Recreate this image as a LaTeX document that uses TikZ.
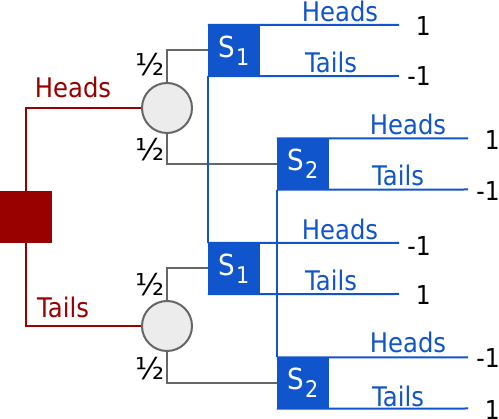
\documentclass[tikz,border=0pt]{standalone}
\usepackage{fontspec}
\setmainfont{DejaVu Sans}
\newfontfamily\labfont{DejaVu Sans}[FakeStretch=0.9]
\definecolor{tred}{RGB}{153,0,0}
\definecolor{tblue}{RGB}{17,85,204}
\definecolor{tgray}{RGB}{102,102,102}
\definecolor{tfill}{RGB}{236,236,236}
\begin{document}
\begin{tikzpicture}[x=1pt,y=-1pt,
  redline/.style={draw=tred,line width=2pt},
  blueline/.style={draw=tblue,line width=2pt},
  grayline/.style={draw=tgray,line width=2pt},
  chance/.style={circle,draw=tgray,fill=tfill,line width=2pt,minimum size=50pt,inner sep=0pt},
  sbox/.style={rectangle,fill=tblue,minimum width=52pt,minimum height=51pt,inner sep=0pt,text=white},
  rootbox/.style={rectangle,fill=tred,minimum width=52pt,minimum height=52pt,inner sep=0pt},
  redlab/.style={anchor=base,inner sep=0pt,text=tred,font=\labfont\fontsize{27}{27}\selectfont},
  bluelab/.style={anchor=base,inner sep=0pt,text=tblue,font=\labfont\fontsize{27}{27}\selectfont},
  pay/.style={anchor=east,inner sep=0pt,font=\labfont\fontsize{26}{26}\selectfont},
  half/.style={inner sep=0pt,font=\fontsize{30}{30}\selectfont}
]
\useasboundingbox (0,0) rectangle (499,419);
\newcommand{\slab}[1]{{\labfont\fontsize{29}{29}\selectfont S}\hspace{1pt}\raisebox{-8pt}{\labfont\fontsize{23}{23}\selectfont #1}}

% root
\node[rootbox] (root) at (26,217) {};
% chance nodes
\node[chance] (c1) at (167,108) {};
\node[chance] (c2) at (167,326) {};
% S boxes
\node[sbox] (s1a) at (234,50.5) {\slab{1}};
\node[sbox] (s2a) at (303,164) {\slab{2}};
\node[sbox] (s1b) at (234,268.5) {\slab{1}};
\node[sbox] (s2b) at (303,383) {\slab{2}};

% line ends
\coordinate (e1) at (399,25);
\coordinate (e2) at (399,76);
\coordinate (e3) at (468,138.5);
\coordinate (e4) at (468,189.5);
\coordinate (e5) at (399,243);
\coordinate (e6) at (399,294);
\coordinate (e7) at (468,357.5);
\coordinate (e8) at (468,408.5);

% red connectors
\draw[redline] (root.north) |- (c1.west);
\draw[redline] (root.south) |- (c2.west);
% gray connectors
\draw[grayline] (c1.north) |- (s1a.west);
\draw[grayline] (c1.south) |- (s2a.west);
\draw[grayline] (c2.north) |- (s1b.west);
\draw[grayline] (c2.south) |- (s2b.west);
% blue lines
\draw[blueline] (s1a.north west) -- (e1);
\draw[blueline] (s1a.south west) -- (e2);
\draw[blueline] (s2a.north west) -- (e3);
\draw[blueline] (s2a.south west) -- (e4);
\draw[blueline] (s1b.north west) -- (e5);
\draw[blueline] (s1b.south west) -- (e6);
\draw[blueline] (s2b.north west) -- (e7);
\draw[blueline] (s2b.south west) -- (e8);
\draw[blueline] (s1a.south west) -- (s1b.north west);
\draw[blueline] (s2a.south west) -- (s2b.north west);

% red labels
\node[redlab] (rh) at (73,98) {Heads};
\node[redlab] (rt) at (63,318) {Tails};
% probabilities
\node[half] (h1) at (150,65) {½};
\node[half] (h2) at (150,150) {½};
\node[half] (h3) at (150,285) {½};
\node[half] (h4) at (150,369) {½};
% blue labels
\node[bluelab] (l1) at (340,22) {Heads};
\node[bluelab] (l2) at (331,73) {Tails};
\node[bluelab] (l3) at (408,135) {Heads};
\node[bluelab] (l4) at (398,186) {Tails};
\node[bluelab] (l5) at (340,240) {Heads};
\node[bluelab] (l6) at (331,291) {Tails};
\node[bluelab] (l7) at (408,353) {Heads};
\node[bluelab] (l8) at (398,407) {Tails};
% payoffs
\node[pay] (p1) at (431,26) {1};
\node[pay] (p2) at (431,76) {-1};
\node[pay] (p3) at (500,140) {1};
\node[pay] (p4) at (500,191) {-1};
\node[pay] (p5) at (431,246) {-1};
\node[pay] (p6) at (431,295) {1};
\node[pay] (p7) at (500,358) {-1};
\node[pay] (p8) at (500,410) {1};
\end{tikzpicture}
\end{document}
